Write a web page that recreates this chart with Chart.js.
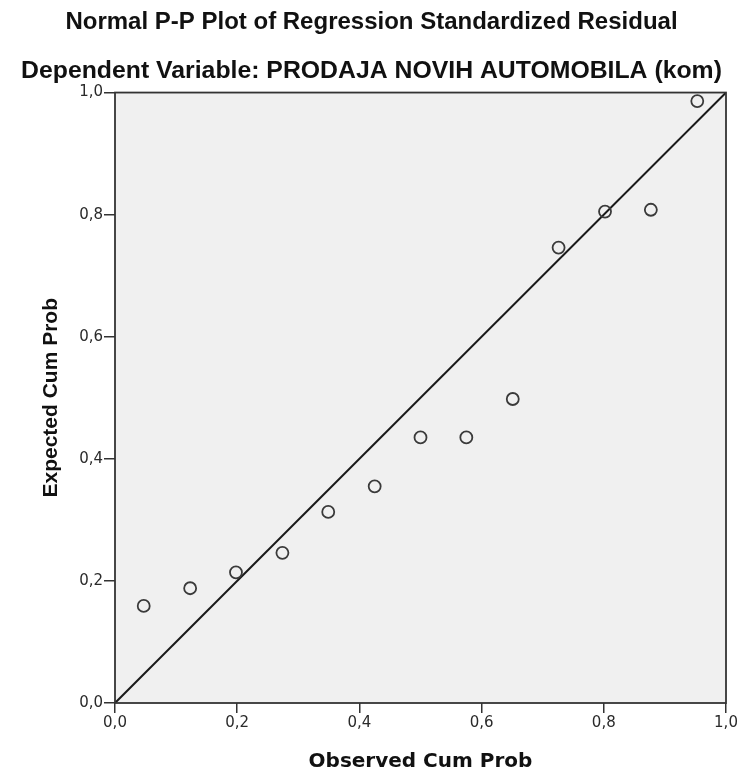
<!DOCTYPE html>
<html>
<head>
<meta charset="utf-8">
<script src="https://cdn.jsdelivr.net/npm/chart.js@4"></script>
<style>
  html, body { margin: 0; padding: 0; background: #fff; }
  canvas { display: block; }
</style>
</head>
<body>
<canvas id="ppPlot" width="743" height="774"></canvas>
<script>
// observed vs expected cumulative probabilities
const observedCumProb = [0.047, 0.123, 0.198, 0.274, 0.349, 0.425, 0.500, 0.575, 0.651, 0.726, 0.802, 0.877, 0.953];
const expectedCumProb = [0.159, 0.188, 0.214, 0.246, 0.313, 0.355, 0.435, 0.435, 0.498, 0.746, 0.805, 0.808, 0.986];
const refLineX = [0, 1];
const refLineY = [0, 1];
const tickValues = [0, 0.2, 0.4, 0.6, 0.8, 1.0];

const fmt = v => v.toFixed(1).replace('.', ',');
const ARIAL = 'Liberation Sans, Arial, sans-serif';
const DEJAVU = 'DejaVu Sans, Verdana, sans-serif';

// gray plot background + frame round the chart area
const plotFrame = {
  id: 'plotFrame',
  beforeDraw(chart) {
    const { ctx, chartArea: a } = chart;
    ctx.save();
    ctx.fillStyle = '#f0f0f0';
    ctx.fillRect(a.left, a.top, a.right - a.left, a.bottom - a.top);
    ctx.restore();
  },
  afterDatasetsDraw(chart) {
    const { ctx, chartArea: a } = chart;
    ctx.save();
    ctx.strokeStyle = '#333';
    ctx.lineWidth = 1.8;
    ctx.strokeRect(a.left, a.top, a.right - a.left, a.bottom - a.top);
    ctx.restore();
  }
};

const ctx = document.getElementById('ppPlot').getContext('2d');
const ppChart = new Chart(ctx, {
  type: 'scatter',
  data: {
    datasets: [
      {
        label: 'Residuals',
        data: observedCumProb.map((x, i) => ({ x: x, y: expectedCumProb[i] })),
        pointRadius: 6,
        pointHoverRadius: 6,
        pointBorderWidth: 1.8,
        pointBorderColor: '#3a3a3a',
        pointBackgroundColor: 'rgba(0,0,0,0)',
        showLine: false
      },
      {
        label: 'Reference',
        data: refLineX.map((x, i) => ({ x: x, y: refLineY[i] })),
        showLine: true,
        borderColor: '#1a1a1a',
        borderWidth: 2,
        pointRadius: 0,
        fill: false
      }
    ]
  },
  options: {
    responsive: false,
    animation: false,
    layout: { padding: { left: 0, right: 0, top: 0, bottom: 0 } },
    plugins: {
      legend: { display: false },
      tooltip: { enabled: false },
      title: {
        display: true,
        text: 'Normal P-P Plot of Regression Standardized Residual',
        color: '#111',
        font: { family: ARIAL, size: 24, weight: 'bold' },
        padding: { top: 8, bottom: 19 }
      },
      subtitle: {
        display: true,
        text: 'Dependent Variable: PRODAJA NOVIH AUTOMOBILA (kom)',
        color: '#111',
        font: { family: ARIAL, size: 24.8, weight: 'bold' },
        padding: { top: 0, bottom: 7 }
      }
    },
    scales: {
      x: {
        type: 'linear',
        min: 0,
        max: 1,
        afterBuildTicks: s => { s.ticks = tickValues.map(v => ({ value: v })); },
        afterFit: s => { s.height = 71; },
        grid: { display: true, drawOnChartArea: false, drawTicks: true, tickLength: 10, color: '#333', lineWidth: 1.5 },
        border: { display: false },
        ticks: {
          color: '#2a2a2a',
          padding: 1,
          font: { family: DEJAVU, size: 15 },
          callback: v => fmt(v)
        },
        title: {
          display: true,
          text: 'Observed Cum Prob',
          color: '#111',
          font: { family: DEJAVU, size: 20, weight: 'bold' },
          padding: { top: 0, bottom: 0 }
        }
      },
      y: {
        type: 'linear',
        min: 0,
        max: 1,
        afterBuildTicks: s => { s.ticks = tickValues.map(v => ({ value: v })); },
        afterFit: s => { s.width = 115; },
        grid: { display: true, drawOnChartArea: false, drawTicks: true, tickLength: 11, color: '#333', lineWidth: 1.5 },
        border: { display: false },
        ticks: {
          color: '#2a2a2a',
          padding: 1,
          font: { family: DEJAVU, size: 15 },
          callback: v => fmt(v)
        },
        title: {
          display: true,
          text: 'Expected Cum Prob',
          color: '#111',
          font: { family: ARIAL, size: 21, weight: 'bold' },
          padding: { top: 39, bottom: 0 }
        }
      },
      // empty right-hand axis that only keeps a 17px margin beside the plot
      yRight: {
        type: 'linear',
        position: 'right',
        min: 0,
        max: 1,
        display: true,
        afterFit: s => { s.width = 17; },
        grid: { display: false },
        border: { display: false },
        ticks: { display: false }
      }
    }
  },
  plugins: [plotFrame]
});
</script>
</body>
</html>
